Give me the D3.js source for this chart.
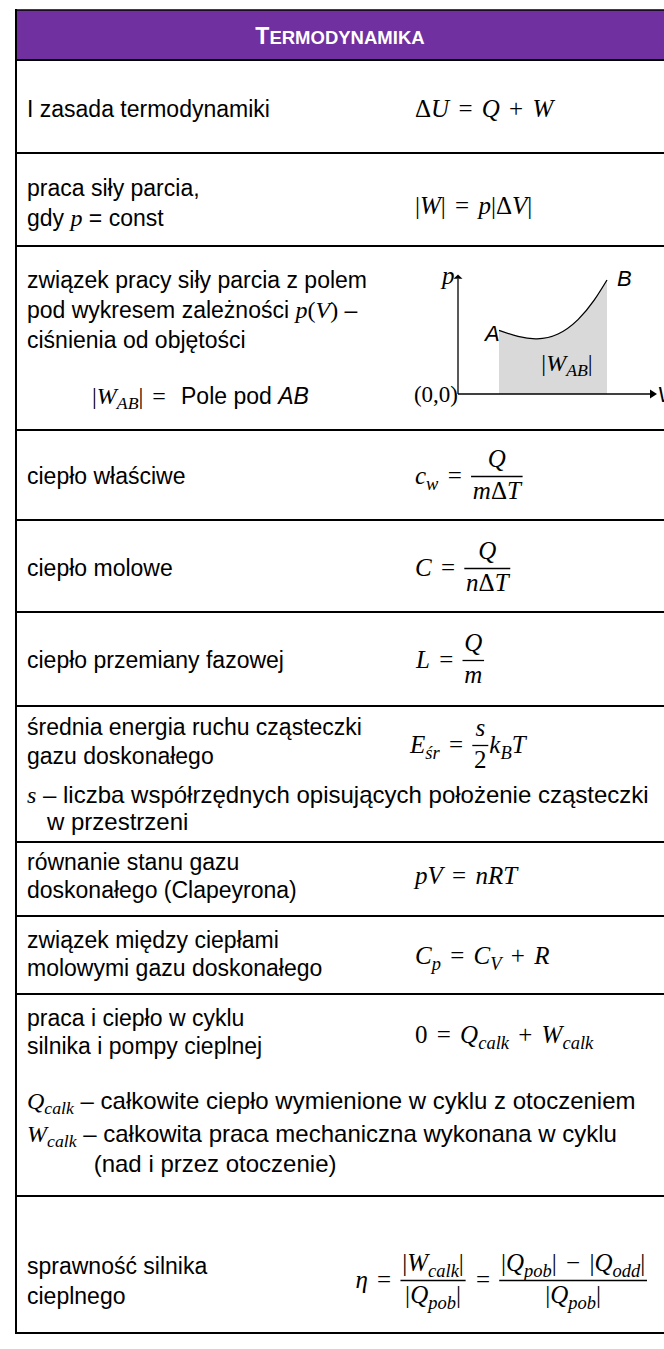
<!DOCTYPE html>
<html>
<head>
<meta charset="utf-8">
<script src="https://cdn.jsdelivr.net/npm/d3@7"></script>
<style>
  body { margin: 0; background: #fff; }
  text { white-space: pre; }
</style>
</head>
<body>
<script>
// ---- content ----
const title = 'TERMODYNAMIKA';

const labels = [
  ['I zasada termodynamiki'],
  ['praca siły parcia,', 'gdy $p$ = const'],
  ['związek pracy siły parcia z polem', 'pod wykresem zależności $p(V)$ –', 'ciśnienia od objętości'],
  ['ciepło właściwe'],
  ['ciepło molowe'],
  ['ciepło przemiany fazowej'],
  ['średnia energia ruchu cząsteczki', 'gazu doskonałego'],
  ['równanie stanu gazu', 'doskonałego (Clapeyrona)'],
  ['związek między ciepłami', 'molowymi gazu doskonałego'],
  ['praca i ciepło w cyklu', 'silnika i pompy cieplnej'],
  ['sprawność silnika', 'cieplnego'],
];

const formulas = [
  'ΔU = Q + W',
  '|W| = p|ΔV|',
  null,
  'c_{w} = \\frac{Q}{mΔT}',
  'C = \\frac{Q}{nΔT}',
  'L = \\frac{Q}{m}',
  'E_{śr} = \\frac{s}{2}k_{B}T',
  'pV = nRT',
  'C_{p} = C_{V} + R',
  '0 = Q_{calk} + W_{calk}',
  'η = \\frac{|W_{calk}|}{|Q_{pob}|} = \\frac{|Q_{pob}| − |Q_{odd}|}{|Q_{pob}|}',
];

const notes = [
  [], [],
  ['$|W_{AB}| = $ Pole pod *AB*'],
  [], [], [],
  ['$s$ – liczba współrzędnych opisujących położenie cząsteczki', '   w przestrzeni'],
  [], [],
  ['$Q_{calk}$ – całkowite ciepło wymienione w cyklu z otoczeniem',
   '$W_{calk}$ – całkowita praca mechaniczna wykonana w cyklu',
   '          (nad i przez otoczenie)'],
  [],
];

// p(V) curve of the little diagram
const curveV = [2.05, 3, 3.95, 5, 6, 6.8, 7.45];
const curveP = [5.3, 4.8, 4.6, 5.0, 6.2, 7.8, 9.5];

// ---- layout ----
const W = 664, H = 1349;
const left = 16;
const rowEdges = [60, 153, 246, 430, 520, 612, 706, 842, 916, 994, 1196, 1333];
const labelBase = [[117], [196, 226], [288, 318, 348], [484], [576], [668], [735, 764],
  [870, 898], [948, 976], [1026, 1054], [1274, 1304]];
const noteBase = [[], [], [404], [], [], [], [803, 830], [], [], [1109, 1142, 1172], []];
const noteX = [0, 0, 92, 0, 0, 0, 27, 0, 0, 27, 0];
const formulaBase = [117, 214, 0, 484, 576, 668, 753, 884, 964, 1043, 1288];
const formulaX = [415, 415, 0, 415, 415, 416, 410, 415, 415, 415, null];

const SANS = '"Liberation Sans", Arial, sans-serif';
const SERIF = '"Liberation Serif", "Times New Roman", serif';
const fsSans = 23;
const fsNote = 24;
const fsMath = 25;

const svg = d3.select('body').append('svg')
  .attr('width', W).attr('height', H)
  .style('font-family', SANS);

svg.append('rect').attr('width', W).attr('height', H).attr('fill', '#fff');

// header
svg.append('rect').attr('x', left).attr('y', 10).attr('width', W - left).attr('height', 50)
  .attr('fill', '#7030a0');
const head = svg.append('text')
  .attr('x', (left + W) / 2).attr('y', 44)
  .attr('text-anchor', 'middle')
  .attr('fill', '#fff')
  .style('font-weight', 'bold');
head.append('tspan').style('font-size', '23px').text(title[0]);
head.append('tspan').style('font-size', '18.5px').text(title.slice(1));

// ---- tiny math typesetter ----
function parseMath(s) {
  const out = [];
  let i = 0;
  const grab = () => { // read {...}
    let depth = 0, start = i;
    for (; i < s.length; i++) {
      if (s[i] === '{') depth++;
      else if (s[i] === '}') { depth--; if (depth === 0) { i++; break; } }
    }
    return s.slice(start + 1, i - 1);
  };
  while (i < s.length) {
    if (s.startsWith('\\frac', i)) {
      i += 5;
      const num = grab();
      const den = grab();
      out.push({ type: 'frac', num, den });
    } else if (s[i] === '_') {
      i++;
      out.push({ type: 'sub', text: grab() });
    } else {
      const isL = /[A-Za-zηśŚ]/.test(s[i]);
      let j = i;
      while (j < s.length && /[A-Za-zηśŚ]/.test(s[j]) === isL && s[j] !== '_' && !s.startsWith('\\frac', j)) j++;
      out.push({ type: 'run', text: s.slice(i, j), italic: isL });
      i = j;
    }
  }
  return out;
}

function newText(g, x, y, fs, family) {
  return g.append('text').attr('x', x).attr('y', y)
    .attr('xml:space', 'preserve')
    .style('font-family', family).style('font-size', fs + 'px');
}

// draws inline math, returns its width
function drawMath(g, str, x, y, fs) {
  const items = parseMath(str);
  let cx = x;
  let t = null;
  let shift = 0;
  const flush = () => {
    if (t) { cx += t.node().getComputedTextLength(); t = null; shift = 0; }
  };
  items.forEach((it) => {
    if (it.type === 'frac') {
      flush();
      const num = g.append('g');
      const den = g.append('g');
      const nw = drawMath(num, it.num, 0, y - 0.68 * fs, fs);
      const dw = drawMath(den, it.den, 0, y + 0.6 * fs, fs);
      const w = Math.max(nw, dw) + 0.14 * fs;
      num.attr('transform', `translate(${cx + (w - nw) / 2},0)`);
      den.attr('transform', `translate(${cx + (w - dw) / 2},0)`);
      g.append('line')
        .attr('x1', cx).attr('x2', cx + w)
        .attr('y1', y - 0.3 * fs).attr('y2', y - 0.3 * fs)
        .attr('stroke', '#000').attr('stroke-width', 1.3);
      cx += w + 0.04 * fs;
      return;
    }
    if (!t) t = newText(g, cx, y, fs, SERIF).style('word-spacing', '0.12em');
    if (it.type === 'run') {
      const ts = t.append('tspan').text(it.text)
        .style('font-style', it.italic ? 'italic' : 'normal');
      if (shift) { ts.attr('dy', -shift); shift = 0; }
    } else {
      const d = 0.22 * fs;
      t.append('tspan').text(it.text)
        .style('font-style', 'italic')
        .style('font-size', (0.74 * fs) + 'px')
        .attr('dy', d - shift);
      shift = d;
    }
  });
  flush();
  return cx - x;
}

// mixed line: sans text, $math$, *italic sans*
function drawRich(g, str, x, y, fs) {
  const parts = str.split(/(\$[^$]*\$|\*[^*]*\*)/).filter((p) => p.length);
  let cx = x;
  parts.forEach((p) => {
    if (p[0] === '$') {
      cx += drawMath(g, p.slice(1, -1), cx, y, fsMath - 1);
    } else {
      const it = p[0] === '*';
      const t = newText(g, cx, y, fs, SANS)
        .style('font-style', it ? 'italic' : 'normal')
        .text(it ? p.slice(1, -1) : p);
      cx += t.node().getComputedTextLength();
    }
  });
  return cx - x;
}

// ---- rows ----
const body = svg.append('g');
labels.forEach((lines, r) => {
  lines.forEach((l, k) => drawRich(body, l, 27, labelBase[r][k], fsSans));
  notes[r].forEach((l, k) => drawRich(body, l, noteX[r], noteBase[r][k], r === 2 ? fsSans : fsNote));
  if (!formulas[r]) return;
  if (formulaX[r] !== null) {
    drawMath(body, formulas[r], formulaX[r], formulaBase[r], fsMath);
  } else {
    // wide formula: right-aligned against the picture edge
    const fg = body.append('g');
    const fw = drawMath(fg, formulas[r], 0, formulaBase[r], fsMath);
    fg.attr('transform', `translate(${648 - fw},0)`);
  }
});

// ---- p(V) diagram ----
const x = d3.scaleLinear().domain([0, 10]).range([458, 658]);
const y = d3.scaleLinear().domain([0, 10]).range([394, 274]);
const pts = curveV.map((v, i) => [v, curveP[i]]);
const diag = svg.append('g');

diag.append('path')
  .attr('d', d3.area().x((d) => x(d[0])).y0(y(0)).y1((d) => y(d[1])).curve(d3.curveNatural)(pts))
  .attr('fill', '#d9d9d9');
diag.append('path')
  .attr('d', d3.line().x((d) => x(d[0])).y((d) => y(d[1])).curve(d3.curveNatural)(pts))
  .attr('fill', 'none').attr('stroke', '#000').attr('stroke-width', 1.3);

// axes with arrow heads
diag.append('line').attr('x1', x(0)).attr('y1', y(0)).attr('x2', x(9.6)).attr('y2', y(0))
  .attr('stroke', '#000').attr('stroke-width', 1.3);
diag.append('line').attr('x1', x(0)).attr('y1', y(0)).attr('x2', x(0)).attr('y2', y(9.6))
  .attr('stroke', '#000').attr('stroke-width', 1.3);
diag.append('path')
  .attr('d', `M${x(9.6)},${y(0) - 4.5}L${x(9.95)},${y(0)}L${x(9.6)},${y(0) + 4.5}Z`);
diag.append('path')
  .attr('d', `M${x(0) - 4.5},${y(9.6)}L${x(0)},${y(9.95)}L${x(0) + 4.5},${y(9.6)}Z`);

drawMath(diag, 'p', x(0) - 16, y(9.2), fsMath);
newText(diag, x(10) - 1, y(0) + 8, 22, SANS).style('font-style', 'italic').text('V');
newText(diag, x(7.95), y(9.2) + 2, 22, SANS).style('font-style', 'italic').text('B');
newText(diag, x(1.35), y(5.0) + 7, 22, SANS).style('font-style', 'italic').text('A');
const wg = diag.append('g');
const ww = drawMath(wg, '|W_{AB}|', 0, y(1.9), fsMath - 1);
wg.attr('transform', `translate(${x(5.45) - ww / 2},0)`);
const og = diag.append('g');
const ow = drawMath(og, '(0,0)', 0, y(0) + 8, fsMath - 2);
og.attr('transform', `translate(${x(0) - ow},0)`);

// ---- grid ----
const grid = svg.append('g').attr('stroke', '#000').attr('stroke-width', 2);
grid.selectAll('line.h')
  .data(rowEdges)
  .enter()
  .append('line')
  .attr('class', 'h')
  .attr('x1', left).attr('x2', W)
  .attr('y1', (d) => d).attr('y2', (d) => d);
grid.append('line').attr('x1', left).attr('x2', W).attr('y1', 10).attr('y2', 10).attr('stroke-width', 1.5);
grid.append('line').attr('x1', left).attr('x2', left).attr('y1', 9).attr('y2', rowEdges[rowEdges.length - 1] + 1);
</script>
</body>
</html>
